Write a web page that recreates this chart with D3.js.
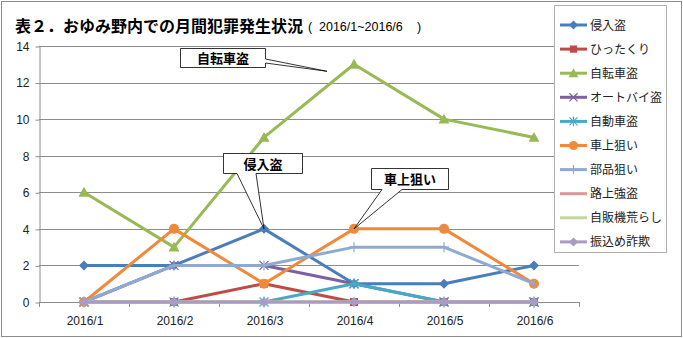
<!DOCTYPE html>
<html>
<head>
<meta charset="utf-8">
<script src="https://cdn.jsdelivr.net/npm/d3@7/dist/d3.min.js"></script>
<style>
  html, body { margin: 0; padding: 0; background: #fff; }
  svg { display: block; }
</style>
</head>
<body>
<svg id="chart" width="683" height="338"></svg>
<script>
// 月別カテゴリ
const months = ["2016/1", "2016/2", "2016/3", "2016/4", "2016/5", "2016/6"];
const yTicks = [0, 2, 4, 6, 8, 10, 12, 14];

// 罪種ごとの件数
const shinnyuTou   = [2, 2, 4, 1, 1, 2];   // 侵入盗
const hittakuri    = [0, 0, 1, 0, 0, 0];   // ひったくり
const jitenshaTou  = [6, 3, 9, 13, 10, 9]; // 自転車盗
const ootobaiTou   = [0, 2, 2, 1, 0, 0];   // オートバイ盗
const jidoushaTou  = [0, 0, 0, 1, 0, 0];   // 自動車盗
const shajouNerai  = [0, 4, 1, 4, 4, 1];   // 車上狙い
const buhinNerai   = [0, 2, 2, 3, 3, 1];   // 部品狙い
const rojouGoutou  = [0, 0, 0, 0, 0, 0];   // 路上強盗
const jihankiArashi = [0, 0, 0, 0, 0, 0];  // 自販機荒らし
const furikomeSagi = [0, 0, 0, 0, 0, 0];   // 振込め詐欺

const seriesNames = ["侵入盗", "ひったくり", "自転車盗", "オートバイ盗", "自動車盗",
                     "車上狙い", "部品狙い", "路上強盗", "自販機荒らし", "振込め詐欺"];
const seriesValues = [shinnyuTou, hittakuri, jitenshaTou, ootobaiTou, jidoushaTou,
                      shajouNerai, buhinNerai, rojouGoutou, jihankiArashi, furikomeSagi];
const seriesColors = ["#4A7EBB", "#BE4B48", "#98B954", "#7D60A0", "#46AAC5",
                      "#F0893A", "#8FAAD2", "#D99694", "#C3D69B", "#A99BC4"];
const seriesMarkers = ["diamond", "square", "triangle", "x", "asterisk",
                       "circle", "plus", "none", "none", "diamond"];

const svg = d3.select("#chart");
const jp = "'Noto Sans CJK JP', 'Noto Sans', sans-serif";
const latin = "'Liberation Sans', Arial, sans-serif";

// 外枠
svg.append("rect")
  .attr("x", 1.5).attr("y", 1.5).attr("width", 680).attr("height", 335)
  .attr("fill", "#fff").attr("stroke", "#8c8c8c").attr("stroke-width", 1);

// タイトル
svg.append("text")
  .attr("x", 15).attr("y", 32)
  .attr("font-family", jp).attr("font-size", 16).attr("font-weight", "bold")
  .attr("fill", "#000")
  .text("表２．おゆみ野内での月間犯罪発生状況");
const sub = svg.append("g").attr("font-family", latin).attr("font-size", 12.5).attr("fill", "#000");
sub.append("text").attr("x", 308).attr("y", 31).text("(");
sub.append("text").attr("x", 319).attr("y", 31).text("2016/1~2016/6");
sub.append("text").attr("x", 417).attr("y", 31).text(")");

// スケール
const plotLeft = 39, plotRight = 579, plotTop = 46, plotBottom = 302;
const xBand = d3.scaleBand().domain(months).range([plotLeft, plotRight]).paddingInner(0).paddingOuter(0);
const x = d => xBand(d) + xBand.bandwidth() / 2;
const y = d3.scaleLinear().domain([0, 14]).range([plotBottom, plotTop]);

// 目盛線
svg.append("g").selectAll("line").data(yTicks).join("line")
  .attr("x1", plotLeft).attr("x2", plotRight)
  .attr("y1", d => Math.round(y(d)) + 0.5).attr("y2", d => Math.round(y(d)) + 0.5)
  .attr("stroke", "#8c8c8c").attr("stroke-width", 1);

// 縦軸
const yAxis = svg.append("g")
  .attr("transform", `translate(${plotLeft + 0.5},0.5)`)
  .call(d3.axisLeft(y).tickValues(yTicks).tickSize(4).tickPadding(6).tickSizeOuter(0));
yAxis.select(".domain").attr("stroke", "#8c8c8c");
yAxis.selectAll(".tick line").attr("stroke", "#8c8c8c");
yAxis.selectAll("text").attr("font-family", latin).attr("font-size", 12).attr("fill", "#222");

// 横軸（ラベルは区間中央、目盛は区間境界）
const xAxis = svg.append("g")
  .attr("transform", `translate(0.5,${Math.round(plotBottom) + 0.5})`)
  .call(d3.axisBottom(d3.scalePoint().domain(months).range([x(months[0]), x(months[months.length - 1])]))
    .tickSize(0).tickPadding(14).tickSizeOuter(0));
xAxis.select(".domain").remove();
xAxis.selectAll("text").attr("font-family", latin).attr("font-size", 12).attr("fill", "#222");
svg.append("line")
  .attr("x1", plotLeft).attr("x2", plotRight)
  .attr("y1", Math.round(plotBottom) + 0.5).attr("y2", Math.round(plotBottom) + 0.5)
  .attr("stroke", "#8c8c8c");
const boundaries = months.map(m => xBand(m)).concat([plotRight]);
svg.append("g").selectAll("line").data(boundaries).join("line")
  .attr("x1", d => Math.round(d) + 0.5).attr("x2", d => Math.round(d) + 0.5)
  .attr("y1", Math.round(plotBottom)).attr("y2", Math.round(plotBottom) + 5)
  .attr("stroke", "#8c8c8c");

// マーカー描画
function drawMarker(g, type, cx, cy, color, scale) {
  const s = scale || 1;
  if (type === "diamond") {
    const r = 5 * s;
    g.append("path").attr("d", `M${cx},${cy - r}L${cx + r},${cy}L${cx},${cy + r}L${cx - r},${cy}Z`)
      .attr("fill", color);
  } else if (type === "square") {
    const r = 4 * s;
    g.append("rect").attr("x", cx - r).attr("y", cy - r).attr("width", 2 * r).attr("height", 2 * r)
      .attr("fill", color);
  } else if (type === "triangle") {
    const r = 5.5 * s;
    g.append("path").attr("d", `M${cx},${cy - r}L${cx + r},${cy + r * 0.8}L${cx - r},${cy + r * 0.8}Z`)
      .attr("fill", color);
  } else if (type === "circle") {
    g.append("circle").attr("cx", cx).attr("cy", cy).attr("r", 5 * s).attr("fill", color);
  } else if (type === "x") {
    const r = 4.5 * s;
    g.append("path").attr("d", `M${cx - r},${cy - r}L${cx + r},${cy + r}M${cx - r},${cy + r}L${cx + r},${cy - r}`)
      .attr("stroke", color).attr("stroke-width", 1.2).attr("fill", "none");
  } else if (type === "asterisk") {
    const r = 4.5 * s;
    g.append("path").attr("d", `M${cx - r},${cy - r}L${cx + r},${cy + r}M${cx - r},${cy + r}L${cx + r},${cy - r}M${cx},${cy - r * 1.2}L${cx},${cy + r * 1.2}`)
      .attr("stroke", color).attr("stroke-width", 1.2).attr("fill", "none");
  } else if (type === "plus") {
    const r = 5 * s;
    g.append("path").attr("d", `M${cx - r},${cy}L${cx + r},${cy}M${cx},${cy - r}L${cx},${cy + r}`)
      .attr("stroke", color).attr("stroke-width", 1.2).attr("fill", "none");
  }
}

// 折れ線
const line = d3.line().x((d, i) => x(months[i])).y(d => y(d));
const seriesG = svg.append("g");
seriesValues.forEach((vals, k) => {
  const g = seriesG.append("g");
  g.append("path").datum(vals).attr("d", line)
    .attr("fill", "none").attr("stroke", seriesColors[k]).attr("stroke-width", 3)
    .attr("stroke-linejoin", "round");
  vals.forEach((v, i) => drawMarker(g, seriesMarkers[k], x(months[i]), y(v), seriesColors[k]));
});

// 吹き出し
function callout(bx, by, bw, bh, side, a, b, tip, label) {
  let d;
  if (side === "right") {
    d = `M${bx},${by}H${bx + bw}V${a}L${tip[0]},${tip[1]}L${bx + bw},${b}V${by + bh}H${bx}Z`;
  } else {
    d = `M${bx},${by}H${bx + bw}V${by + bh}H${b}L${tip[0]},${tip[1]}L${a},${by + bh}H${bx}Z`;
  }
  svg.append("path").attr("d", d).attr("fill", "#fff").attr("stroke", "#000").attr("stroke-width", 0.8);
  svg.append("text").attr("x", bx + bw / 2).attr("y", by + bh / 2 + 5)
    .attr("text-anchor", "middle").attr("font-family", jp).attr("font-weight", "bold")
    .attr("font-size", 13).attr("fill", "#000").text(label);
}
callout(180.5, 48.5, 85, 19, "right", 59, 63, [x("2016/4") - 27, y(13) + 7], "自転車盗");
callout(223.5, 153.5, 79, 20, "bottom", 237, 256, [x("2016/3"), y(shinnyuTou[2])], "侵入盗");
callout(371.5, 168.5, 77, 21, "bottom", 382, 402, [x("2016/4"), y(shajouNerai[3])], "車上狙い");

// 凡例
const lg = svg.append("g");
lg.append("rect").attr("x", 554.5).attr("y", 5.5).attr("width", 112).attr("height", 247)
  .attr("fill", "#fff").attr("stroke", "#b0b0b0");
seriesNames.forEach((name, k) => {
  const cy = 25 + k * 24.1;
  lg.append("line").attr("x1", 560).attr("x2", 587).attr("y1", cy).attr("y2", cy)
    .attr("stroke", seriesColors[k]).attr("stroke-width", 3);
  drawMarker(lg, seriesMarkers[k], 573.5, cy, seriesColors[k], 0.9);
  lg.append("text").attr("x", 590).attr("y", cy + 4.5)
    .attr("font-family", jp).attr("font-size", 12).attr("fill", "#222").text(name);
});
</script>
</body>
</html>
